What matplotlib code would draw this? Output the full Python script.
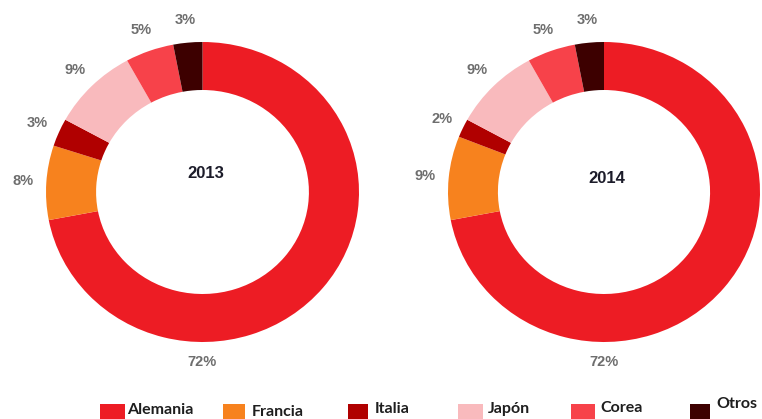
import matplotlib
matplotlib.use("Agg")
import matplotlib.pyplot as plt
from matplotlib.patches import Rectangle

categories = ["Alemania", "Francia", "Italia", "Japón", "Corea", "Otros"]
values_2013 = [72, 8, 3, 9, 5, 3]
values_2014 = [72, 9, 2, 9, 5, 3]
years = ["2013", "2014"]
colors = ["#ED1C24", "#F7821E", "#B00000", "#F9BABD", "#F7424A", "#3D0000"]

W, H = 762, 419
fig = plt.figure(figsize=(W / 100, H / 100), dpi=100)
fig.patch.set_facecolor("white")

label_color = "#6E6E6E"

def px_rect(x0, y0, x1, y1):
    return [x0 / W, (H - y1) / H, (x1 - x0) / W, (y1 - y0) / H]

donut_boxes = [(46, 42, 359, 342), (448, 42, 760, 342)]
year_y = [0.12, 0.09]

for box, vals, yr, yy in zip(donut_boxes, [values_2013, values_2014], years, year_y):
    ax = fig.add_axes(px_rect(*box))
    ax.axis("off")
    labels = [f"{v}%" for v in vals]
    labels_shown = [""] + labels[1:]
    wedges, texts = ax.pie(vals, colors=colors, startangle=90, counterclock=False,
                           radius=1.0, labels=labels_shown, labeldistance=1.15,
                           wedgeprops=dict(width=0.32, linewidth=0),
                           textprops=dict(color=label_color, fontsize=10.5,
                                          fontweight="bold", family="Liberation Sans"))
    ax.set_xlim(-1, 1)
    ax.set_ylim(-1, 1)
    ax.set_aspect("auto")
    for t in texts:
        t.set_ha("center")
        t.set_va("center")
        t.set_clip_on(False)
    ax.text(0, -1.13, labels[0], ha="center", va="center", color=label_color,
            fontsize=10.5, fontweight="bold", family="Liberation Sans", clip_on=False)
    ax.text(0.02, yy, yr, ha="center", va="center", color="#1C1C2A",
            fontsize=12, fontweight="bold", family="Liberation Sans")

# legend
sq_x = [100, 223, 348, 458, 571, 690]
sq_w = [25, 22, 20, 25, 24, 20]
txt_x = [127, 252, 375, 488, 600, 716]
txt_y = [410, 412, 409, 409, 408, 404]
sq_y0, sq_y1 = 404, 419
for c, col, sx, sw, tx, ty in zip(categories, colors, sq_x, sq_w, txt_x, txt_y):
    fig.patches.append(Rectangle((sx / W, (H - sq_y1) / H), sw / W, (sq_y1 - sq_y0) / H,
                                 transform=fig.transFigure, facecolor=col,
                                 edgecolor="none"))
    fig.text(tx / W, (H - ty) / H, c, ha="left", va="center", fontsize=11.5,
             fontweight="bold", family="Lato", color="#1E1E1E")

fig.savefig("out.png", dpi=100, facecolor="white")
